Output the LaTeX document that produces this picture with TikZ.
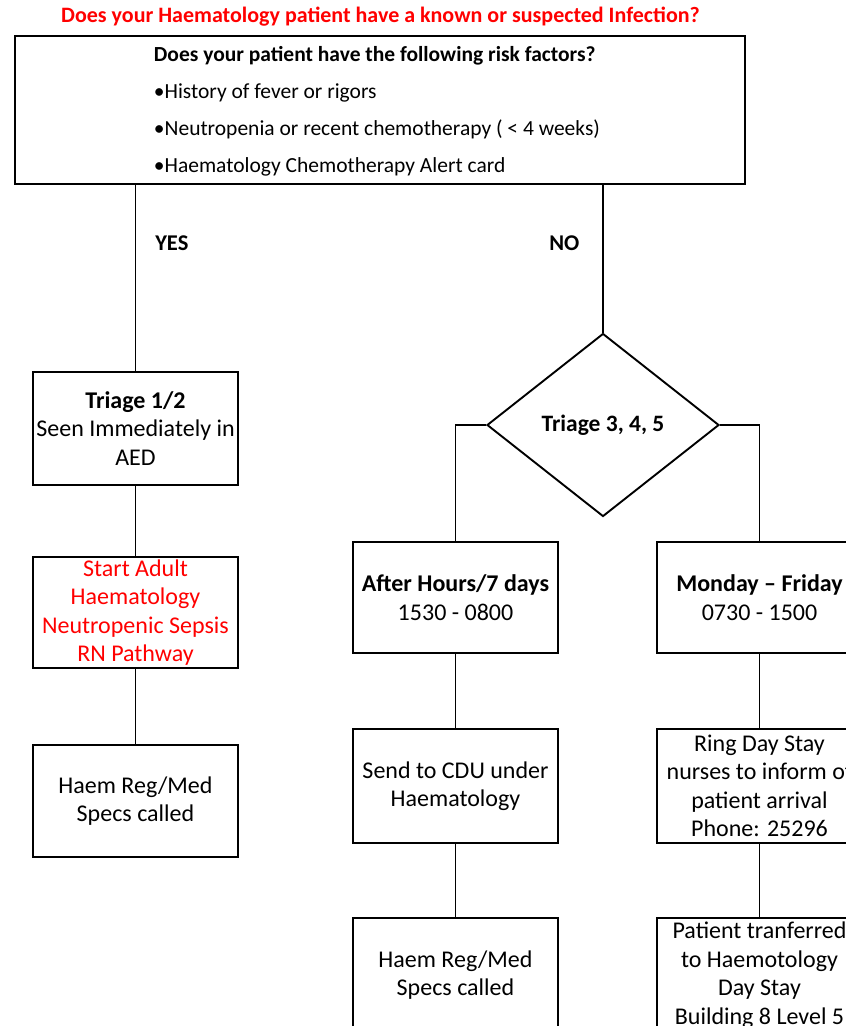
\documentclass[tikz,border=0pt]{standalone}
\usepackage{fontspec}
\setmainfont{Carlito}
\usetikzlibrary{shapes.geometric}
\definecolor{alertred}{RGB}{255,0,0}
\begin{document}
\begin{tikzpicture}[x=1pt,y=-1pt,
  box/.style={draw, rectangle, minimum width=205pt, inner sep=0pt,
    align=center, font=\fontsize{24}{28.5}\selectfont},
  decision/.style={draw, diamond, minimum width=232pt, minimum height=183pt,
    inner sep=0pt, font=\fontsize{23.5}{28.5}\selectfont\bfseries},
  branch/.style={font=\fontsize{22.5}{26}\selectfont\bfseries, anchor=west},
  link/.style={line width=1.9pt}]
\useasboundingbox (0,0) rectangle (846,1026);
\clip (0,0) rectangle (846,1026);
\tikzset{every node/.append style={line width=1.9pt}}

% heading
\node (title) at (380.5,17) {\fontsize{22}{26}\selectfont\bfseries\color{alertred}Does your Haematology patient have a known or suspected Infection?};

% risk factor box
\node[draw, rectangle, minimum width=730pt, minimum height=148pt, inner sep=0pt] (risk) at (380,110) {};
\node[anchor=west, inner sep=0pt, align=left, font=\fontsize{21.5}{37}\selectfont] (risktext) at (153,111)
  {\textbf{Does your patient have the following risk factors?}\\
   •History of fever or rigors\\
   •Neutropenia or recent chemotherapy ( < 4 weeks)\\
   •Haematology Chemotherapy Alert card};

% left column
\node[box, minimum height=113pt] (t12) at (135.5,428.5) {\textbf{Triage 1/2}\\Seen Immediately in\\AED};
\node[box, minimum height=111pt, text=alertred] (sepsis) at (135.5,612.5) {Start Adult\\Haematology\\Neutropenic Sepsis\\RN Pathway};
\node[box, minimum height=112pt] (haemA) at (135.5,801) {Haem Reg/Med\\Specs called};

% decision
\node[decision] (tri) at (603,425) {Triage 3, 4, 5};

% middle column
\node[box, minimum height=111pt] (after) at (455.5,597.5) {\textbf{After Hours/7 days}\\1530 - 0800};
\node[box, minimum height=114pt] (cdu) at (455.5,786) {Send to CDU under\\Haematology};
\node[box, minimum height=114pt] (haemB) at (455.5,975) {Haem Reg/Med\\Specs called};

% right column
\node[box, minimum height=111pt] (mon) at (759.5,597.5) {\textbf{Monday – Friday}\\0730 - 1500};
\node[box, minimum height=114pt] (ring) at (759.5,786) {Ring Day Stay\\nurses to inform of\\patient arrival\\Phone: 25296};
\node[box, minimum height=114pt] (move) at (759.5,975) {Patient tranferred\\to Haemotology\\Day Stay\\Building 8 Level 5};

% branch labels
\node[branch] (yes) at (151,243) {YES};
\node[branch] (no) at (545,243) {NO};

% connectors
\draw[link] (risk.south -| t12.north) -- (t12.north);
\draw[link] (risk.south -| tri.north) -- (tri.north);
\draw[link] (t12) -- (sepsis);
\draw[link] (sepsis) -- (haemA);
\draw[link] (tri.west) -| (after.north);
\draw[link] (tri.east) -| (mon.north);
\draw[link] (after) -- (cdu);
\draw[link] (cdu) -- (haemB);
\draw[link] (mon) -- (ring);
\draw[link] (ring) -- (move);
\end{tikzpicture}
\end{document}
